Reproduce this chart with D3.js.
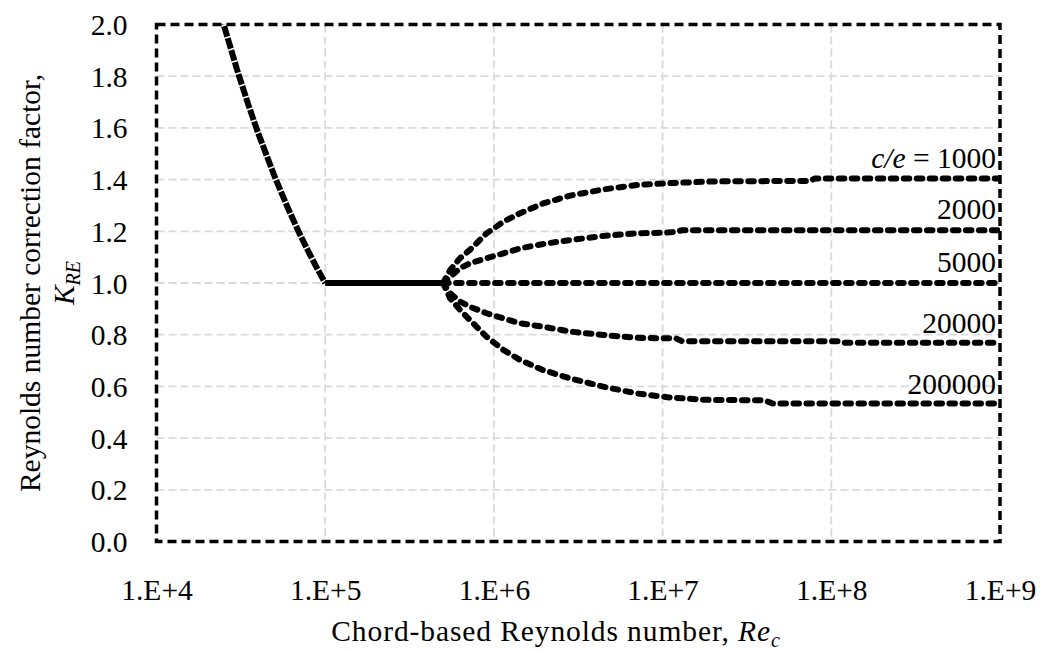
<!DOCTYPE html>
<html><head><meta charset="utf-8">
<script src="https://cdn.jsdelivr.net/npm/d3@7"></script>
</head><body style="margin:0;background:#fff">
<svg id="c" width="1043" height="651" style="display:block"></svg>
<script>
// ---- data ----
const xTicks = [1e4, 1e5, 1e6, 1e7, 1e8, 1e9];
const yTicks = [0, 0.2, 0.4, 0.6, 0.8, 1.0, 1.2, 1.4, 1.6, 1.8, 2.0];
// common laminar branch (all c/e)
const reSteep = [2.4e4, 2.5e4, 3e4, 3.5e4, 4e4, 5e4, 6e4, 7e4, 8e4, 9e4, 1e5];
const kSteep  = [2.04, 2.0, 1.826, 1.69, 1.581, 1.414, 1.291, 1.195, 1.118, 1.054, 1.0];
const reFlat = [1e5, 5e5];
const kFlat  = [1.0, 1.0];
// rough-wall branches
const seriesNames = ["1000", "2000", "5000", "20000", "200000"];
const re1000 = [5e5, 5.5e5, 6.3e5, 7.2e5, 9.05e5, 1.14e6, 1.43e6, 1.96e6, 2.83e6, 4.45e6, 7.0e6, 1.07e7, 2e7, 7.5e7, 8e7, 1e9];
const k1000  = [1.0, 1.05, 1.096, 1.128, 1.192, 1.237, 1.270, 1.308, 1.338, 1.362, 1.379, 1.386, 1.393, 1.395, 1.404, 1.404];
const re2000 = [5e5, 5.5e5, 6.3e5, 7.2e5, 9.05e5, 1.14e6, 1.43e6, 1.96e6, 2.83e6, 4.45e6, 7.0e6, 1.07e7, 1.2e7, 1.3e7, 1e9];
const k2000  = [1.0, 1.024, 1.057, 1.076, 1.096, 1.115, 1.134, 1.151, 1.166, 1.182, 1.192, 1.195, 1.198, 1.204, 1.204];
const re5000 = [5e5, 1e9];
const k5000  = [1.0, 1.0];
const re20000 = [5e5, 5.5e5, 6.3e5, 7.2e5, 9.05e5, 1.14e6, 1.43e6, 1.96e6, 2.83e6, 4.45e6, 7.0e6, 1.07e7, 1.2e7, 1.3e7, 1.1e8, 1.2e8, 1e9];
const k20000  = [1.0, 0.960, 0.928, 0.908, 0.883, 0.863, 0.844, 0.831, 0.812, 0.799, 0.788, 0.786, 0.786, 0.775, 0.775, 0.769, 0.769];
const re200000 = [5e5, 5.5e5, 6.3e5, 7.2e5, 9.05e5, 1.14e6, 1.43e6, 1.96e6, 2.83e6, 4.45e6, 7.0e6, 1.07e7, 1.8e7, 4e7, 4.5e7, 1e9];
const k200000  = [1.0, 0.941, 0.896, 0.857, 0.792, 0.741, 0.702, 0.663, 0.631, 0.599, 0.573, 0.558, 0.548, 0.546, 0.534, 0.534];

const FONT = '"Liberation Serif"';
const FS = "29.5px";
const svg = d3.select("#c");
const L = 156.5, R = 1000, T = 24.5, B = 541.5;
const x = d3.scaleLog().domain([1e4, 1e9]).range([L, R]);
const y = d3.scaleLinear().domain([0, 2]).range([B, T]);

svg.append("rect").attr("width", 1043).attr("height", 651).attr("fill", "#fff");
svg.append("clipPath").attr("id", "clip").append("rect")
  .attr("x", L).attr("y", T).attr("width", R - L).attr("height", B - T);

// grid
const grid = svg.append("g");
grid.selectAll(".hg").data(yTicks.filter(d => d > 0 && d < 2)).join("line")
  .attr("x1", L).attr("x2", R).attr("y1", d => y(d)).attr("y2", d => y(d))
  .attr("stroke", "#d9d9d9").attr("stroke-width", 1.8).attr("stroke-dasharray", "8,4");
grid.selectAll(".vg").data(xTicks.filter(d => d > 1e4 && d < 1e9)).join("line")
  .attr("y1", T).attr("y2", B).attr("x1", d => x(d)).attr("x2", d => x(d))
  .attr("stroke", "#d9d9d9").attr("stroke-width", 1.8).attr("stroke-dasharray", "8,4");

// axes (labels only)
const xAxis = d3.axisBottom(x).tickValues(xTicks).tickSize(0).tickPadding(0)
  .tickFormat(d => "1.E+" + Math.round(Math.log10(d)));
const gx = svg.append("g").attr("transform", `translate(0,${B})`).call(xAxis)
  .attr("font-family", null).attr("font-size", null);
gx.select(".domain").remove();
gx.selectAll("text").style("font-family", FONT).style("font-size", FS).style("fill", "#000")
  .attr("y", 58).attr("dy", 0);

const yAxis = d3.axisLeft(y).tickValues(yTicks).tickSize(0).tickPadding(0).tickFormat(d3.format(".1f"));
const gy = svg.append("g").attr("transform", `translate(${L},0)`).call(yAxis)
  .attr("font-family", null).attr("font-size", null);
gy.select(".domain").remove();
gy.selectAll("text").style("font-family", FONT).style("font-size", FS).style("fill", "#000")
  .attr("x", -29).attr("dy", 10);

// curves
const line = d3.line().x(d => x(d[0])).y(d => y(d[1]));
const plot = svg.append("g").attr("clip-path", "url(#clip)");
const zip = (a, b) => a.map((v, i) => [v, b[i]]);
plot.append("path").attr("d", line(zip(reSteep, kSteep))).attr("fill", "none")
  .attr("stroke", "#000").attr("stroke-width", 6).attr("stroke-dasharray", "11,1.5");
plot.append("path").attr("d", line(zip(reFlat, kFlat))).attr("fill", "none")
  .attr("stroke", "#000").attr("stroke-width", 6);
const fan = [[re1000, k1000], [re2000, k2000], [re5000, k5000], [re20000, k20000], [re200000, k200000]];
fan.forEach(([r, k]) => {
  plot.append("path").attr("d", line(zip(r, k))).attr("fill", "none")
    .attr("stroke", "#000").attr("stroke-width", 6).attr("stroke-linecap", "round")
    .attr("stroke-dasharray", "5.5,7.5");
});

// border
svg.append("rect").attr("x", L).attr("y", T).attr("width", R - L).attr("height", B - T)
  .attr("fill", "none").attr("stroke", "#000").attr("stroke-width", 3.5).attr("stroke-dasharray", "9,5");

// series labels
const labelBase = [168, 219, 272, 333, 394];
seriesNames.forEach((n, i) => {
  const t = svg.append("text").attr("x", 996).attr("y", labelBase[i]).attr("text-anchor", "end")
    .style("font-family", FONT).style("font-size", FS);
  if (i === 0) {
    t.append("tspan").style("font-style", "italic").text("c/e");
    t.append("tspan").text(" = " + n);
  } else t.text(n);
});

// axis titles
const xt = svg.append("text").attr("x", 556).attr("y", 641).attr("text-anchor", "middle")
  .style("font-family", FONT).style("font-size", FS).style("letter-spacing", "0.9px");
xt.append("tspan").text("Chord-based Reynolds number, ");
xt.append("tspan").style("font-style", "italic").text("Re");
xt.append("tspan").style("font-style", "italic").style("font-size", "20px").attr("dy", 6).text("c");

const yt = svg.append("g").attr("transform", "translate(40,283) rotate(-90)");
yt.append("text").attr("text-anchor", "middle").style("font-family", FONT).style("font-size", FS)
  .text("Reynolds number correction factor,");
const k2 = yt.append("text").attr("text-anchor", "middle").attr("y", 34)
  .style("font-family", FONT).style("font-size", FS);
k2.append("tspan").style("font-style", "italic").text("K");
k2.append("tspan").style("font-style", "italic").style("font-size", "20px").attr("dy", 6).text("RE");
</script>
</body></html>
